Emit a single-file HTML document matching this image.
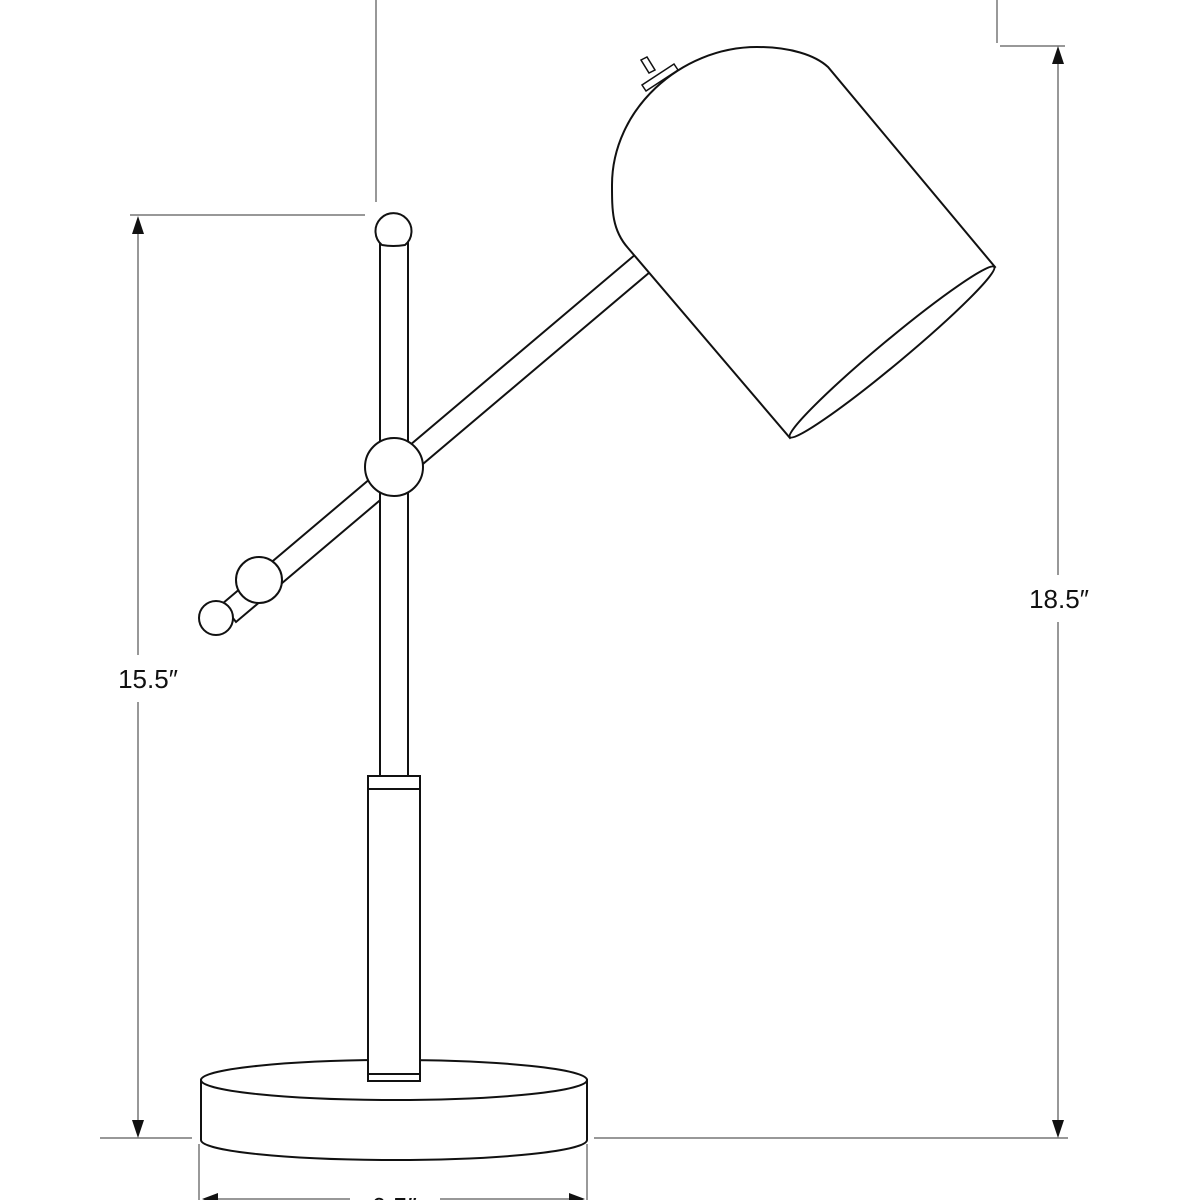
<!DOCTYPE html>
<html><head><style>
html,body{margin:0;padding:0;background:#fff;width:1200px;height:1200px;overflow:hidden}
svg{display:block}
text{font-family:"Liberation Sans",sans-serif;font-size:26px;fill:#111}
</style></head><body>
<svg width="1200" height="1200" viewBox="0 0 1200 1200">
<g stroke="#777" stroke-width="1.5" fill="none">
<line x1="376" y1="0" x2="376" y2="202"/>
<line x1="130" y1="215" x2="365" y2="215"/>
<line x1="138" y1="230" x2="138" y2="655" />
<line x1="138" y1="702" x2="138" y2="1125"/>
<line x1="997" y1="0" x2="997" y2="43"/>
<line x1="1000" y1="46" x2="1065" y2="46"/>
<line x1="1058" y1="60" x2="1058" y2="575"/>
<line x1="1058" y1="622" x2="1058" y2="1125"/>
<line x1="100" y1="1138" x2="192" y2="1138"/>
<line x1="594" y1="1138" x2="1068" y2="1138"/>
<line x1="199" y1="1144" x2="199" y2="1200"/>
<line x1="587" y1="1144" x2="587" y2="1200"/>
<line x1="205" y1="1199" x2="350" y2="1199"/>
<line x1="440" y1="1199" x2="582" y2="1199"/>
</g>
<g fill="#111">
<path d="M138,216 l-6,18 h12z"/>
<path d="M138,1138 l-6,-18 h12z"/>
<path d="M1058,46 l-6,18 h12z"/>
<path d="M1058,1138 l-6,-18 h12z"/>
<path d="M202,1199 l16,-6 v12z"/>
<path d="M585,1199 l-16,-6 v12z"/>
<path d="M449,1062 l-5,12 h10z"/>
<path d="M449,1100 l-5,-12 h10z"/>
</g>
<line x1="449" y1="1070" x2="449" y2="1092" stroke="#111" stroke-width="1.5"/>
<text x="148" y="688" text-anchor="middle">15.5″</text>
<text x="1059" y="608" text-anchor="middle">18.5″</text>
<text x="490" y="1090" text-anchor="middle">6.5″</text>
<text x="394" y="1216" text-anchor="middle">6.5″</text>
<g stroke="#111" stroke-width="2" fill="#fff">
<path d="M201,1080 L201,1140 A193,20 0 0 0 587,1140 L587,1080 Z"/>
<ellipse cx="394" cy="1080" rx="193" ry="20"/>
<rect x="368" y="776" width="52" height="305"/>
<line x1="368" y1="789" x2="420" y2="789"/>
<line x1="368" y1="1074" x2="420" y2="1074"/>
<path d="M222,604 L636,254 L650,272 L236,622 Z"/>
<rect x="380" y="240" width="28" height="536"/>
<path d="M382,245 A18,18 0 1 1 405,245 Q393,247 382,245Z"/>
<circle cx="394" cy="467" r="29"/>
<circle cx="259" cy="580" r="23"/>
<circle cx="216" cy="618" r="17"/>
<path d="M628,248 C612,230 612,210 612,185 C612,110 680,47 757,47 C790,47 815,55 828,67 L995,267 L790,438 Z"/>
<ellipse cx="892" cy="352" rx="133" ry="12" transform="rotate(-39.8 892 352)"/>
<g stroke-width="1.5">
<path d="M646,91 L678,70 L674,64 L642,85 Z"/>
<path d="M641,60 L647,57 L655,70 L649,73 Z"/>
</g>
</g>
</svg>
</body></html>
